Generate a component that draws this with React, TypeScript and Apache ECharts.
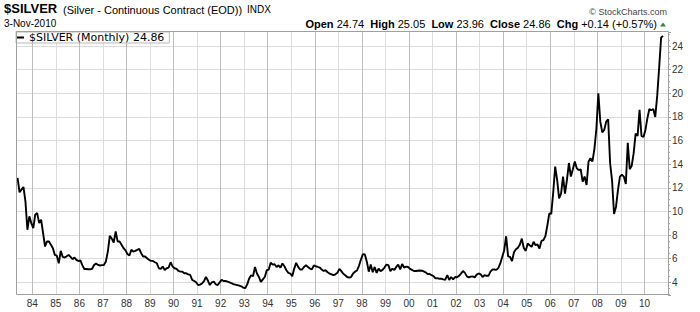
import React, { useEffect, useRef } from "react";
import * as echarts from "echarts";

// ---- data (monthly closes, first point = June 1983) ----
const startYear = 1983;
const startMonth = 6;
const closes1983 = [12.84, 11.62, 11.85, 12.07, 10.86, 8.45, 9.58];
const closes1984to1987 = [
  9.01, 8.59, 9.72, 9.86, 9.01, 9.3, 8.16, 7.03, 7.46, 7.46, 7.17, 6.89,
  6.32, 6.25, 5.61, 6.66, 6.15, 6.1, 6.2, 6.32, 6.15, 5.95, 6.1, 5.9,
  5.8, 5.85, 5.45, 5.13, 5.13, 5.1, 5.1, 5.15, 5.47, 5.6, 5.47, 5.42,
  5.45, 5.47, 5.76, 6.6, 7.94, 7.7, 7.37, 8.3, 7.46, 7.46, 7.17, 6.89,
];
const closes1988to1991 = [
  6.7, 6.4, 6.27, 6.75, 6.6, 6.66, 6.75, 6.83, 6.46, 6.18, 6.18, 6.04,
  5.9, 5.81, 5.81, 5.7, 5.61, 5.19, 5.13, 5.33, 5.05, 5.19, 5.25, 5.7,
  5.33, 5.19, 5.13, 4.96, 4.9, 4.9, 4.76, 4.76, 4.68, 4.62, 4.2, 4.11,
  4.0, 3.77, 3.8, 3.9, 4.1, 4.45, 4.15, 3.77, 4.0, 4.06, 3.83, 3.77,
];
const closes1992to1995 = [
  4.0, 4.2, 4.11, 4.11, 4.06, 4.0, 3.92, 3.85, 3.8, 3.76, 3.72, 3.66,
  3.55, 3.5, 3.8, 4.3, 4.6, 4.51, 5.3, 4.75, 4.45, 4.03, 4.25, 4.45,
  5.02, 5.08, 5.65, 5.5, 5.53, 5.3, 5.44, 5.25, 5.59, 5.36, 5.02, 4.8,
  4.74, 4.51, 5.16, 5.64, 5.3, 5.08, 5.08, 5.3, 5.44, 5.3, 5.16, 5.1,
];
const closes1996to1999 = [
  5.44, 5.36, 5.3, 5.25, 5.08, 4.96, 5.02, 4.85, 4.74, 4.68, 4.6, 4.68,
  4.8, 5.14, 4.95, 4.72, 4.6, 4.45, 4.4, 4.45, 4.75, 4.9, 5.0, 5.4,
  5.93, 6.38, 6.35, 5.75, 4.9, 5.5, 4.85, 5.3, 4.8, 5.15, 4.95, 5.05,
  5.25, 5.5, 5.45, 4.95, 5.15, 5.05, 5.3, 5.5, 5.1, 5.55, 5.25, 5.33,
];
const closes2000to2003 = [
  5.3, 5.14, 5.05, 4.96, 4.96, 4.98, 5.0, 4.98, 4.92, 4.84, 4.7, 4.7,
  4.6, 4.52, 4.33, 4.35, 4.3, 4.3, 4.25, 4.22, 4.6, 4.2, 4.45, 4.25,
  4.45, 4.42, 4.55, 4.74, 4.96, 4.8, 4.5, 4.42, 4.48, 4.5, 4.42, 4.65,
  4.75, 4.68, 4.45, 4.6, 4.55, 4.55, 4.9, 5.08, 5.08, 5.05, 5.2, 5.6,
];
const closes2004to2007 = [
  6.15, 6.7, 7.9, 6.2, 6.15, 5.8, 6.55, 6.8, 6.93, 7.2, 7.7, 6.9,
  6.66, 7.29, 7.14, 7.0, 7.43, 7.14, 7.2, 6.86, 7.5, 7.57, 7.9, 8.8,
  9.84, 9.8, 11.6, 13.8, 12.67, 11.1, 11.5, 12.95, 11.5, 12.67, 14.1, 12.95,
  13.57, 14.23, 13.66, 13.5, 13.57, 12.53, 12.95, 12.24, 14.23, 14.5, 14.23, 15.3,
];
const closes2008to2010 = [
  17.0, 20.0, 17.6, 16.7, 16.9, 17.6, 17.8, 14.08, 12.6, 9.78, 10.4, 11.8,
  12.95, 13.1, 12.95, 12.33, 15.8, 13.57, 13.86, 14.93, 16.58, 16.4, 18.6, 16.4,
  16.3, 16.9, 17.9, 18.67, 18.56, 18.67, 18.0, 19.8, 22.2, 24.72, 24.86,
];

const symbol = "$SILVER";
const description = "(Silver - Continuous Contract (EOD))";
const exchange = "INDX";
const quoteDate = "3-Nov-2010";
const quoteOpen = 24.74;
const quoteHigh = 25.05;
const quoteLow = 23.96;
const quoteClose = 24.86;
const quoteChg = 0.14;
const quoteChgPct = 0.57;

// axis extents (decimal years / price)
const xMin = 1983.308;
const xMax = 2011;
const yMin = 2.925;
const yMax = 25.19;

const closes = [
  ...closes1983,
  ...closes1984to1987,
  ...closes1988to1991,
  ...closes1992to1995,
  ...closes1996to1999,
  ...closes2000to2003,
  ...closes2004to2007,
  ...closes2008to2010,
];
// each monthly close is drawn half a month before the month's start
const points = closes.map((v, i) => [startYear + (startMonth - 1 + i - 0.5) / 12, v]);
const lastClose = closes[closes.length - 1];

const SANS = "'Liberation Sans', Arial, sans-serif";

const yearLabel = (v: number) => {
  const r = Math.round(v);
  if (Math.abs(v - r) > 1e-6) return "";
  return String(r % 100).padStart(2, "0");
};

const option: any = {
  animation: false,
  backgroundColor: "#ffffff",
  grid: { left: 16, right: 32, top: 32, bottom: 17, show: false },
  legend: {
    show: true,
    left: 16,
    top: 32,
    orient: "horizontal",
    icon: "rect",
    itemWidth: 7,
    itemHeight: 2,
    padding: [0, 5, 0, 1],
    backgroundColor: "#ffffff",
    borderColor: "#b8b8b8",
    borderWidth: 1,
    borderRadius: 0,
    selectedMode: false,
    textStyle: { fontFamily: "'DejaVu Sans', Verdana, sans-serif", fontSize: 11, color: "#000", lineHeight: 11, padding: 0 },
    formatter: () => `${symbol} (Monthly) ${lastClose.toFixed(2)}`,
    data: [{ name: "silver", itemStyle: { color: "#000" } }],
  },
  xAxis: [
    {
      type: "value",
      min: xMin,
      max: xMax,
      splitNumber: 27,
      axisLine: { show: false },
      axisTick: { show: false },
      axisLabel: {
        margin: 3,
        fontSize: 10,
        color: "#333",
        fontFamily: SANS,
        showMinLabel: false,
        showMaxLabel: false,
        formatter: yearLabel,
      },
      splitLine: { show: true, showMinLine: false, showMaxLine: false, lineStyle: { color: "#dcdcdc", width: 1 } },
    },
    {
      type: "value",
      min: xMin,
      max: xMax,
      splitNumber: 14,
      position: "bottom",
      axisLine: { show: false },
      axisTick: { show: false },
      axisLabel: { show: false },
      splitLine: { show: true, showMinLine: false, showMaxLine: false, lineStyle: { color: "#bdbdbd", width: 1 } },
    },
  ],
  yAxis: {
    type: "value",
    position: "right",
    min: yMin,
    max: yMax,
    splitNumber: 11,
    axisLine: { show: false },
    axisTick: { show: true, length: 3, lineStyle: { color: "#a0a0a0" } },
    minorTick: { show: true, splitNumber: 4, length: 2, lineStyle: { color: "#b0b0b0" } },
    axisLabel: {
      margin: 4,
      fontSize: 10,
      color: "#333",
      fontFamily: SANS,
      showMinLabel: false,
      showMaxLabel: false,
      formatter: (v: number) => String(Math.round(v)),
    },
    splitLine: { show: true, showMinLine: false, showMaxLine: false, lineStyle: { color: "#dcdcdc", width: 1 } },
  },
  series: [
    {
      name: "silver",
      type: "line",
      xAxisIndex: 0,
      data: points,
      showSymbol: false,
      symbol: "none",
      lineStyle: { color: "#000", width: 1.9 },
      itemStyle: { color: "#000" },
      z: 3,
    },
  ],
  graphic: [
    // plot frame
    {
      type: "rect",
      z: 10,
      silent: true,
      shape: { x: 16.5, y: 31.5, width: 652, height: 263 },
      style: { fill: "none", stroke: "#a0a0a0", lineWidth: 1 },
    },
    {
      type: "text",
      left: 4,
      top: 2,
      style: { text: symbol, font: `bold 13px ${SANS}`, fill: "#000" },
    },
    {
      type: "text",
      x: 63,
      y: 9.5,
      style: { text: description, fontFamily: SANS, fontSize: 11, fill: "#000", verticalAlign: "middle" },
    },
    {
      type: "text",
      x: 247,
      y: 9.8,
      style: { text: exchange, fontFamily: SANS, fontSize: 10, fill: "#000", verticalAlign: "middle" },
    },
    {
      type: "text",
      x: 4,
      y: 23.5,
      style: { text: quoteDate, fontFamily: SANS, fontSize: 10, fill: "#000", verticalAlign: "middle" },
    },
    {
      type: "text",
      x: 667,
      y: 11.7,
      style: { text: "\u00A9 StockCharts.com", fontFamily: SANS, fontSize: 9, fill: "#444", align: "right", verticalAlign: "middle" },
    },
    {
      type: "text",
      x: 657,
      y: 24.3,
      style: {
        text:
          `{b|Open} {v|${quoteOpen.toFixed(2)}}  {b|High} {v|${quoteHigh.toFixed(2)}}  ` +
          `{b|Low} {v|${quoteLow.toFixed(2)}}  {b|Close} {v|${quoteClose.toFixed(2)}}  ` +
          `{b|Chg} {v|+${quoteChg.toFixed(2)} (+${quoteChgPct.toFixed(2)}%)}`,
        align: "right",
        verticalAlign: "middle",
        fontFamily: SANS,
        fontSize: 11,
        fill: "#000",
        rich: {
          b: { fontFamily: SANS, fontSize: 11, fontWeight: "bold", fill: "#000" },
          v: { fontFamily: SANS, fontSize: 11, fill: "#000" },
        },
      },
    },
    {
      type: "polygon",
      shape: { points: [[660, 26.5], [666, 26.5], [663, 22.5]] },
      style: { fill: "#2f8f2f" },
    },
  ],
};

export default function App() {
  const ref = useRef<HTMLDivElement>(null);
  useEffect(() => {
    if (!ref.current) return;
    const chart = echarts.init(ref.current, null, { renderer: "svg", width: 700, height: 312 });
    chart.setOption(option);
    return () => chart.dispose();
  }, []);
  return (
    <div
      ref={ref}
      style={{ position: "fixed", left: 0, top: 0, width: 700, height: 312, background: "#fff" }}
    />
  );
}
